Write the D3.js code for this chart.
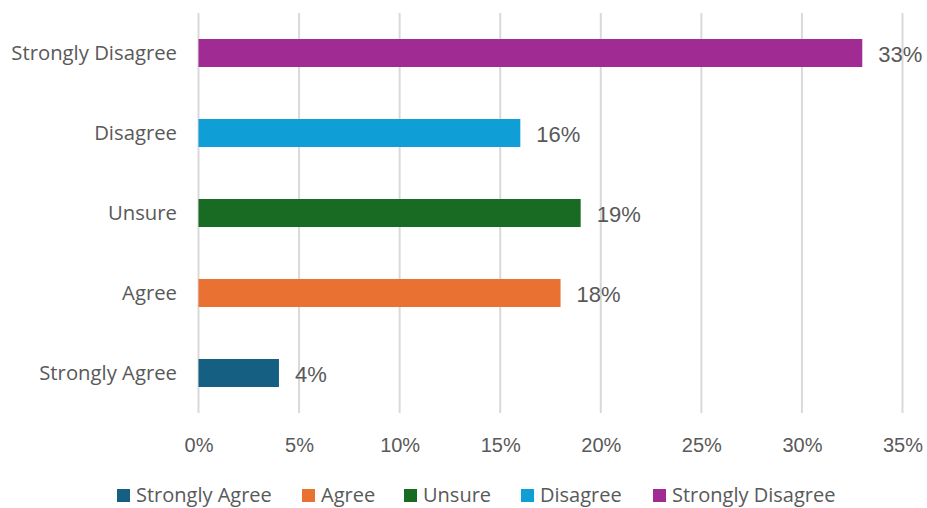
<!DOCTYPE html>
<html>
<head>
<meta charset="utf-8">
<script src="https://cdn.jsdelivr.net/npm/d3@7"></script>
<style>
  html, body { margin: 0; padding: 0; background: #ffffff; }
  svg { display: block; }
</style>
</head>
<body>
<svg id="chart" width="927" height="508"></svg>
<script>
// Survey responses, drawn bottom-to-top in this order
const categories = ["Strongly Agree", "Agree", "Unsure", "Disagree", "Strongly Disagree"];
const values = [4, 18, 19, 16, 33];
const colors = ["#156082", "#E97132", "#196B24", "#0F9ED5", "#A02B93"];
const tickValues = [0, 5, 10, 15, 20, 25, 30, 35];

const svg = d3.select("#chart");
const plot = { left: 198.5, right: 902.5, top: 13, bottom: 413 };

const catFont = "'Open Sans', 'Noto Sans', sans-serif";
const numFont = "'Liberation Sans', Arial, sans-serif";
const textColor = "#595959";

const x = d3.scaleLinear().domain([0, 35]).range([plot.left, plot.right]);
const y = d3.scaleBand()
  .domain(categories.slice().reverse())
  .range([plot.top, plot.bottom])
  .paddingInner(0.65)
  .paddingOuter(0.325);

// Vertical gridlines
svg.append("g")
  .selectAll("line")
  .data(tickValues)
  .join("line")
  .attr("x1", d => x(d)).attr("x2", d => x(d))
  .attr("y1", plot.top).attr("y2", plot.bottom)
  .attr("stroke", "#d9d9d9")
  .attr("stroke-width", 2);

// Bottom axis labels
const xAxis = d3.axisBottom(x).tickValues(tickValues).tickFormat(d => d + "%").tickSize(0).tickPadding(0);
const gx = svg.append("g").attr("transform", `translate(0, ${plot.bottom})`).call(xAxis);
gx.select(".domain").remove();
gx.selectAll("text")
  .attr("y", 0)
  .attr("dy", 0)
  .attr("transform", "translate(0, 39)")
  .attr("font-family", numFont)
  .attr("font-size", 20)
  .attr("fill", textColor);

// Category labels
const yAxis = d3.axisLeft(y).tickSize(0).tickPadding(0);
const gy = svg.append("g").attr("transform", `translate(177, 0)`).call(yAxis);
gy.select(".domain").remove();
gy.selectAll("text")
  .attr("x", 0)
  .attr("dy", "0.35em")
  .attr("font-family", catFont)
  .attr("font-size", 20.3)
  .attr("fill", textColor);

// Bars
const rows = categories.map((c, i) => ({ cat: c, value: values[i], color: colors[i] }));
svg.append("g")
  .selectAll("rect")
  .data(rows)
  .join("rect")
  .attr("x", x(0))
  .attr("y", d => y(d.cat))
  .attr("width", d => x(d.value) - x(0))
  .attr("height", y.bandwidth())
  .attr("fill", d => d.color);

// Value labels
svg.append("g")
  .selectAll("text")
  .data(rows)
  .join("text")
  .attr("x", d => x(d.value) + 16)
  .attr("y", d => y(d.cat) + y.bandwidth() / 2 + 1)
  .attr("dy", "0.36em")
  .attr("font-family", numFont)
  .attr("font-size", 22)
  .attr("fill", textColor)
  .text(d => d.value + "%");

// Legend
const legendX = [117, 302, 404, 521, 653];
const legend = svg.append("g")
  .selectAll("g")
  .data(rows)
  .join("g")
  .attr("transform", (d, i) => `translate(${legendX[i]}, 489)`);
legend.append("rect")
  .attr("width", 13).attr("height", 13)
  .attr("fill", d => d.color);
legend.append("text")
  .attr("x", 19)
  .attr("y", 13)
  .attr("font-family", catFont)
  .attr("font-size", 20)
  .attr("fill", textColor)
  .text(d => d.cat);
</script>
</body>
</html>
